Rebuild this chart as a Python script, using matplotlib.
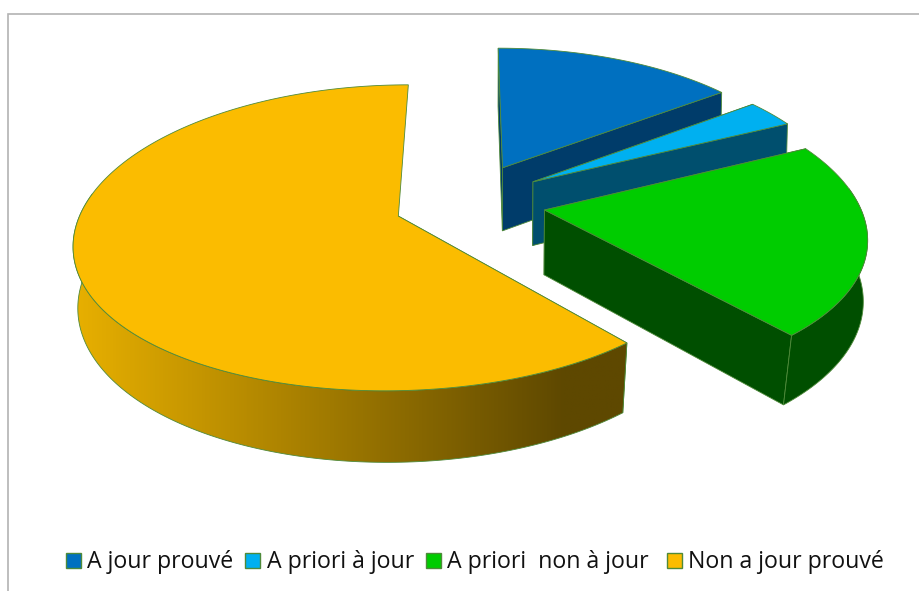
import numpy as np
import matplotlib
matplotlib.use("Agg")
import matplotlib.pyplot as plt
from matplotlib.patches import Patch, Polygon
from matplotlib.colors import LinearSegmentedColormap

# --- data ---
labels = ["A jour prouvé", "A priori à jour", "A priori  non à jour ", "Non a jour prouvé"]
values = [14.8, 3, 20.8, 61.4]

# --- style ---
top_colors = ["#0070C0", "#00B0F0", "#00CC00", "#FBBC00"]
side_colors = ["#003C6A", "#004F6E", "#004F00", "#604A00"]
edge = "#4F8A3A"
START = 0.0
XC, YC, RX, RY, KX, EXPL_U, EXPL_V, DEPTH, KD = 470, 202, 314, 147, 0.16, 0.24, 0.27, 64.5, 0.09
KY_FAR, KY_NEAR = 0.15, 0.135

plt.rcParams["font.family"] = ["Open Sans", "DejaVu Sans"]
fig = plt.figure(figsize=(9.2, 5.91), dpi=100)
ax = fig.add_axes([0, 0, 1, 1])


def project(u, v):
    ky = np.where(np.asarray(v) > 0, KY_NEAR, KY_FAR)
    return XC + RX * u / (1 - KX * v), YC + RY * v / (1 - ky * v)


def project_low(u, v):
    x, y = project(u, v)
    shrink = 0.995 - 0.025 * np.maximum(v, 0)
    return XC + (x - XC) * shrink, y + DEPTH / (1 - KD * v)


def plane(cu, cv, ang):
    a = np.radians(ang)
    return cu + np.sin(a), cv - np.cos(a)


def face(pts, fc, z):
    ax.add_patch(Polygon(pts, closed=True, facecolor=fc, edgecolor=edge, linewidth=0.6, zorder=z))


total = sum(values)
angle = START
for i, val in enumerate(values):
    span = 360 * val / total
    mid = np.radians(angle + span / 2)
    cu, cv = EXPL_U * np.sin(mid), -EXPL_V * np.cos(mid)
    arc = np.linspace(angle, angle + span, 240)
    u, v = plane(cu, cv, arc)
    xt, yt = project(u, v)
    ap_top = project(cu, cv)
    ap_low = project_low(cu, cv)
    z = 2 + i * 3

    # cut faces
    xb, yb = project_low(u, v)
    face([ap_top, (xt[0], yt[0]), (xb[0], yb[0]), ap_low], side_colors[i], z)
    if i < 3:
        face([ap_top, (xt[-1], yt[-1]), (xb[-1], yb[-1]), ap_low], side_colors[i], z)

    # outer wall: only the part turned towards the viewer
    seen = np.cos(np.radians(arc)) <= 0.15
    if seen.any():
        wall = np.vstack([np.c_[xt[seen], yt[seen]], np.c_[xb[seen], yb[seen]][::-1]])
        if i == 3:
            poly = Polygon(wall, closed=True, facecolor="none", edgecolor=edge, linewidth=0.6, zorder=z + 1)
            ax.add_patch(poly)
            cmap = LinearSegmentedColormap.from_list(
                "wall", [(0, "#E8B000"), (0.87, "#5E4800"), (1, "#5E4800")])
            grad = np.linspace(0, 1, 500).reshape(1, -1)
            im = ax.imshow(grad, extent=(72, 640, 470, 230), cmap=cmap, aspect="auto", zorder=z + 0.5)
            im.set_clip_path(poly)
        else:
            face(wall, side_colors[i], z + 1)

    # top surface
    face(np.vstack([[ap_top], np.c_[xt, yt]]), top_colors[i], z + 2)
    angle += span

ax.set_xlim(0, 920)
ax.set_ylim(591, 0)
ax.axis("off")

# chart frame
ax.plot([8, 8, 920], [591, 14, 14], color="#B3B3B3", lw=1.2, zorder=1, solid_joinstyle="miter")

handles = [Patch(facecolor=c, edgecolor=edge, linewidth=1.0) for c in top_colors]
ax.legend(handles, labels, ncol=4, frameon=False, fontsize=16.7,
          loc="center left", bbox_to_anchor=(66 / 920, 1 - 562.5 / 591), borderaxespad=0, borderpad=0,
          handlelength=0.65, handleheight=0.66, handletextpad=0.26, columnspacing=0.52, labelcolor="#111111")

fig.savefig("out.png", dpi=100)
